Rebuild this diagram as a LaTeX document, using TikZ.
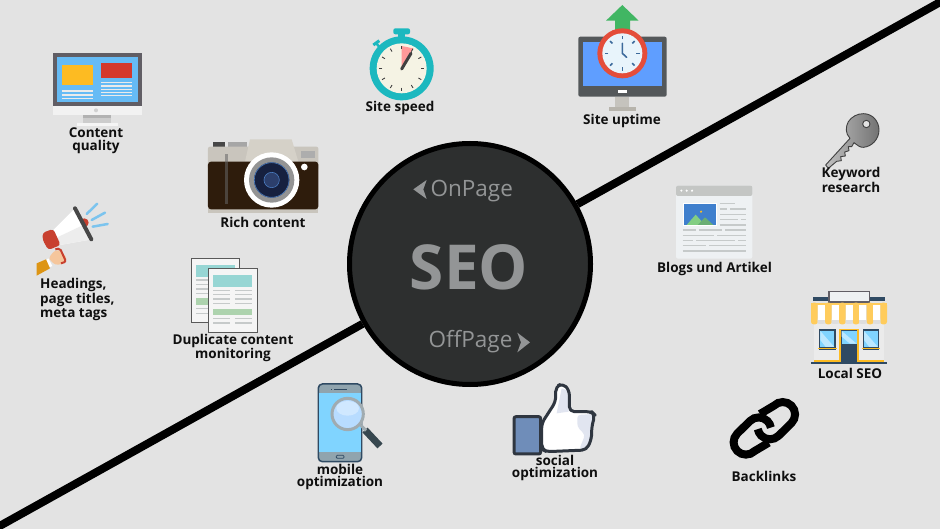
\documentclass[tikz,border=0pt]{standalone}
\usepackage{fontspec}
\setmainfont{Open Sans}
\usetikzlibrary{shapes.geometric}
\definecolor{bg}{HTML}{E3E3E3}
\definecolor{disc}{HTML}{2D2F2F}
\definecolor{disctext}{HTML}{939596}
\definecolor{ink}{HTML}{0F0F0F}
\definecolor{linegray}{HTML}{C6CACA}
\definecolor{skyb}{HTML}{66BBF5}
\definecolor{gold}{HTML}{FDBB22}
\definecolor{brick}{HTML}{D4382C}
\definecolor{slate}{HTML}{615E65}
\definecolor{tealc}{HTML}{1CB8BF}
\definecolor{cream}{HTML}{F5F3E4}
\definecolor{scrblue}{HTML}{5F9EFF}
\definecolor{mongray}{HTML}{54585A}
\definecolor{standg}{HTML}{B7B4AC}
\definecolor{leaf}{HTML}{41B663}
\definecolor{clockred}{HTML}{E44D3A}
\definecolor{clockface}{HTML}{E8F4FB}
\definecolor{clocktick}{HTML}{3C6A9B}
\definecolor{navy}{HTML}{2F4A63}
\definecolor{awning}{HTML}{FFCC5C}
\definecolor{glass}{HTML}{80D4FF}
\definecolor{glassl}{HTML}{BCE8FF}
\definecolor{docteal}{HTML}{97D6D4}
\definecolor{docgreen}{HTML}{ADD3AE}
\definecolor{camtop}{HTML}{C9C5BD}
\definecolor{camhump}{HTML}{D5D1C8}
\definecolor{cambrown}{HTML}{2E1C0C}
\definecolor{lensnavy}{HTML}{16203F}
\definecolor{lensmid}{HTML}{2C3F6C}
\definecolor{lensring}{HTML}{4A7CC0}
\definecolor{thumbb}{HTML}{6F8DB9}
\definecolor{thumbo}{HTML}{2F3640}
\definecolor{thumbs}{HTML}{E1E5F0}
\definecolor{megared}{HTML}{C8402F}
\definecolor{skin}{HTML}{F5C69C}
\definecolor{sleeve}{HTML}{DD9515}
\definecolor{raycol}{HTML}{7CC4EE}
\definecolor{blogbg}{HTML}{EEF1F3}
\definecolor{bloghd}{HTML}{C4C6C4}
\definecolor{blogimg}{HTML}{3F7FCD}
\definecolor{mtl}{HTML}{82CE82}
\definecolor{mtd}{HTML}{6AAE74}
\definecolor{magring}{HTML}{A0ABB0}
\definecolor{magglass}{HTML}{B8DCFF}
\definecolor{maghandle}{HTML}{37474F}
\definecolor{phonegray}{HTML}{90A4AE}
\tikzset{
 z1/.style={shift={(20,30)},scale=0.33333},
 z2/.style={shift={(350,0)},scale=0.33333},
 z3/.style={shift={(650,100)},scale=0.33333},
 z4/.style={shift={(290,370)},scale=0.33333},
 z5/.style={shift={(340,135)},scale=0.33333},
 z6/.style={shift={(710,380)},scale=0.33333},
 lbl/.style={inner sep=0pt,align=center,text=ink,font=\bfseries\fontsize{13.5}{12.6}\selectfont},
 lbll/.style={inner sep=0pt,align=left,text=ink,font=\bfseries\fontsize{13.5}{14.3}\selectfont},
 diag/.style={line width=8pt,black},
 txl/.style={line width=1.5pt,linegray},
 wl/.style={line width=1.1pt,white!92!black},
 disclbl/.style={inner sep=0pt,text=disctext,font=\fontsize{22.5}{24}\selectfont},
}
\begin{document}
\begin{tikzpicture}[x=1pt,y=-1pt]
\useasboundingbox (0,0) rectangle (940,529);
\fill[bg] (0,0) rectangle (940,529);
% ---------- centre
\coordinate (lineA) at (-10,531.4);
\coordinate (lineB) at (950,-3.4);
\node[circle,draw=black,line width=5pt,fill=disc,minimum size=241pt,inner sep=0pt] (seo) at (470,264) {};
\draw[diag] (lineA) -- (seo);
\draw[diag] (seo) -- (lineB);
\node[inner sep=0pt,text=disctext,font=\bfseries\fontsize{62}{62}\selectfont] (seotxt) at (469,267.5) {SEO};
\node[disclbl] (onpage) at (471.7,191.5) {OnPage};
\node[disclbl] (offpage) at (470.5,342) {OffPage};
\begin{scope}[z5]
\fill[disctext] (220,163) -- (260,135) -- (250,163) -- (260,192) -- cycle;
\fill[disctext] (532,593) -- (570,622) -- (532,652) -- (543,622) -- cycle;
\end{scope}
% ---------- content monitor
\begin{scope}[z1]
\fill[black!5] (98,228) rectangle (365,255);
\fill[slate] (98,68) rectangle (365,228);
\fill[skyb] (110,82) rectangle (353,216);
\fill[gold] (125,105) rectangle (220,166);
\fill[brick] (243,100) rectangle (337,144);
\foreach \yy in {183,195,205} \draw[wl] (125,\yy) -- (220,\yy);
\foreach \yy in {157,168,178,187,197} \draw[wl] (243,\yy) -- (337,\yy);
\fill[black!18] (228,241) circle[radius=6];
\fill[black!20] (188,255) rectangle (274,278);
\fill[black!30] (188,255) rectangle (274,263);
\fill[black!4] (170,278) rectangle (293,288);
\end{scope}
\node[lbl] (t1) at (96,140.5) {Content\\quality};
% ---------- camera
\begin{scope}[z1]
\fill[black!72] (580,337) rectangle (615,352);
\fill[black!35] (625,337) rectangle (680,354);
\fill[rounded corners=2pt,camtop] (564,350) rectangle (895,420);
\fill[camhump] (675,395) -- (690,328) -- (815,328) -- (835,395) -- cycle;
\fill[camtop] (564,530) rectangle (895,548);
\fill[rounded corners=3pt,cambrown] (564,395) -- (895,395) -- (895,538) -- (564,538) -- cycle;
\fill[black!32] (843,362) rectangle (885,385);
\fill[black!60,opacity=.55] (614,373) rectangle (623,522);
\fill[white] (755,450) circle[radius=83];
\fill[black!42] (755,450) circle[radius=68];
\fill[lensnavy] (755,450) circle[radius=53];
\draw[lensring,line width=.6pt] (755,450) circle[radius=52];
\fill[lensmid] (755,450) circle[radius=23];
\draw[lensring,line width=.6pt] (755,450) circle[radius=23];
\fill[white] (853,411) circle[radius=10];
\end{scope}
\node[lbl] (t2) at (263,222) {Rich content};
% ---------- megaphone
\begin{scope}[z1]
\draw[line width=2.5pt,raycol,line cap=round] (200,552) -- (232,521);
\draw[line width=2.5pt,raycol,line cap=round] (215,570) -- (255,548);
\draw[line width=2.5pt,raycol,line cap=round] (218,590) -- (263,582);
\fill[megared] (193,578) circle[radius=13];
\fill[white] (100,600) -- (165,535) -- (215,628) -- (120,645) -- cycle;
\fill[black!7] (112,622) -- (190,585) -- (215,628) -- (120,645) -- cycle;
\draw[line width=4pt,black!72,line cap=round] (165,535) -- (214,628);
\fill[rounded corners=3pt,skin] (85,685) -- (105,660) -- (122,662) -- (142,685) -- (130,702) -- (105,705) -- cycle;
\draw[line width=2pt,megared,rounded corners=2pt] (106,658) -- (120,655) -- (138,695) -- (123,700);
\fill[megared,rounded corners=3pt] (68,608) -- (100,597) -- (122,645) -- (85,660) -- (68,630) -- cycle;
\fill[white] (75,692) -- (85,685) -- (97,708) -- (88,712) -- cycle;
\fill[sleeve] (50,700) -- (78,688) -- (90,715) -- (50,737) -- cycle;
\end{scope}
\node[lbll,anchor=north west] (t3) at (40,278.5) {Headings,\\page titles,\\meta tags};
% ---------- duplicate content
\begin{scope}[z1]
\draw[fill=black!4,draw=black!65,line width=.8pt] (513,686) rectangle (659,878);
\fill[docteal] (528,705) rectangle (645,742);
\foreach \yy in {750,763,777,790,835,850} \draw[txl] (528,\yy) -- (566,\yy);
\fill[docgreen] (528,805) rectangle (566,825);
\draw[fill=black!4,draw=black!65,line width=.8pt] (566,714) rectangle (712,906);
\fill[docteal] (580,735) rectangle (697,770);
\foreach \yy in {781,793,807,820,866,879} {\draw[txl] (580,\yy) -- (630,\yy); \draw[txl] (645,\yy) -- (697,\yy);}
\fill[docgreen] (580,836) rectangle (697,855);
\end{scope}
\node[lbl] (t4) at (233,348) {Duplicate content\\monitoring};
% ---------- stopwatch
\begin{scope}[z2]
\fill[tealc,rounded corners=2pt] (130,85) rectangle (180,103);
\fill[tealc] (145,100) rectangle (165,115);
\draw[line width=3pt,tealc] (70,135) -- (88,122);
\draw[line width=2.5pt,tealc] (77,128) -- (92,145);
\fill[tealc] (155,205) circle[radius=96];
\fill[cream] (155,205) circle[radius=75];
\fill[red!40!white] (155,205) -- (155,138) -- (189,145) -- cycle;
\foreach \a in {0,30,...,330} \draw[line width=.9pt,black!75] ({155+58*cos(\a)},{205+58*sin(\a)}) -- ({155+68*cos(\a)},{205+68*sin(\a)});
\draw[line width=3pt,black!75,line cap=round] (155,207) -- (183,160);
\end{scope}
\node[lbl] (t5) at (400,108) {Site speed};
% ---------- uptime monitor
\begin{scope}[z2]
\fill[standg] (778,320) rectangle (857,333);
\fill[standg!80!white] (795,290) rectangle (838,320);
\fill[mongray,rounded corners=2pt] (685,110) rectangle (950,290);
\fill[scrblue] (698,125) rectangle (936,258);
\fill[white] (805,270) rectangle (830,278);
\fill[leaf] (768,62) -- (817,15) -- (866,62) -- (840,62) -- (840,95) -- (795,95) -- (795,62) -- cycle;
\fill[clockred] (817,160) circle[radius=75];
\fill[clockface] (817,160) circle[radius=60];
\foreach \a in {0,45,...,315} \draw[line width=1.6pt,clocktick] ({817+42*cos(\a)},{160+42*sin(\a)}) -- ({817+52*cos(\a)},{160+52*sin(\a)});
\draw[line width=1.6pt,clocktick,line cap=round,line join=round] (817,130) -- (817,160) -- (830,172);
\end{scope}
\node[lbl] (t6) at (622,121) {Site uptime};
% ---------- key
\begin{scope}[z3]
\draw[black!75,line width=.9pt,left color=black!25,right color=black!55,even odd rule,line join=round]
 (640,41) .. controls (668,41) and (687,64) .. (687,90) .. controls (687,118) and (665,140) .. (640,142)
 .. controls (630,143) and (622,135) .. (612,128) -- (605,140) -- (595,140) -- (597,152) -- (584,156) -- (586,168) -- (572,170) -- (574,182) -- (560,184)
 -- (535,205) -- (527,195) -- (600,115) .. controls (585,100) and (587,80) .. (595,65) .. controls (605,50) and (622,41) .. (640,41) -- cycle
 (649,72) circle[radius=11];
\end{scope}
\node[lbl] (t7) at (851,180) {Keyword\\research};
% ---------- blog card
\begin{scope}[z3]
\fill[blogbg,rounded corners=2pt] (78,257) rectangle (307,476);
\fill[bloghd,rounded corners=2pt] (78,257) rectangle (307,288);
\foreach \xx in {94,110,126} \fill[white] (\xx,272) circle[radius=3.5];
\draw[white,line width=.6pt,fill=blogimg] (100,310) rectangle (198,377);
\fill[mtl] (110,375) -- (137,344) -- (165,375) -- cycle;
\fill[mtd] (143,375) -- (165,352) -- (190,375) -- cycle;
\fill[gold] (153,335) circle[radius=3.5];
\foreach \a/\b/\yy in {209/255/311,209/232/327,240/287/327,209/287/343,209/263/359,272/287/359,209/287/375,
 98/137/390,146/216/390,225/287/390,98/192/406,201/287/406,98/129/422,138/255/422,264/287/422,98/169/437,177/287/437,98/287/453}
 \draw[txl] (\a,\yy) -- (\b,\yy);
\end{scope}
\node[lbl] (t8) at (714.5,269) {Blogs und Artikel};
% ---------- store
\begin{scope}[z3]
\fill[black!8] (492,672) rectangle (702,785);
\fill[navy] (488,590) rectangle (705,603);
\draw[draw=slate,line width=1.1pt,fill=blogbg] (537,574) rectangle (658,606);
\foreach \xx in {483,525,567,608,650,691} \fill[awning,rounded corners=2.5pt] (\xx,608) rectangle (\xx+20,673);
\fill[awning] (483,608) rectangle (711,615);
\foreach \xx in {503,545,587,628,670} {\fill[black!13,rounded corners=2.5pt] (\xx,650) rectangle (\xx+21,672); \fill[white] (\xx,615) rectangle (\xx+21,660);}
\foreach \xx in {507,638} {
 \fill[navy] (\xx,688) rectangle (\xx+50,750);
 \fill[glass] (\xx+4,693) rectangle (\xx+46,741);
 \fill[glassl] (\xx+4,693) -- (\xx+46,741) -- (\xx+20,741) -- (\xx+4,720) -- cycle;
 \fill[gold] (\xx-3,744) rectangle (\xx+53,748);
}
\fill[gold] (568,686) rectangle (626,785);
\fill[navy] (572,690) rectangle (622,785);
\fill[glass] (575,693) rectangle (620,731);
\fill[glassl] (575,693) -- (620,731) -- (600,731) -- (575,710) -- cycle;
\fill[gold] (492,779) rectangle (568,785);
\fill[gold] (626,779) rectangle (702,785);
\fill[navy] (482,785) rectangle (711,792);
\end{scope}
\node[lbl] (t9) at (850,373) {Local SEO};
% ---------- phone
\begin{scope}[z4]
\draw[navy,line width=1.5pt,fill=phonegray,rounded corners=4pt] (85,42) rectangle (215,275);
\fill[glass] (87,70) rectangle (214,245);
\draw[navy,line width=.8pt] (132,57) -- (170,57);
\fill[navy] (122,56) rectangle (125,58);
\draw[navy,line width=.8pt,rounded corners=1pt] (139,256) rectangle (162,265);
\draw[maghandle,line width=7pt] (225,180) -- (270,228);
\draw[magring,line width=3pt] (212,165) -- (228,182);
\draw[magring,line width=3pt,fill=magglass] (173,132) circle[radius=47];
\fill[white,opacity=.35] (173,115) ellipse[x radius=34,y radius=22];
\end{scope}
\node[lbl] (t10) at (340,477) {mobile\\optimization};
% ---------- thumb
\begin{scope}[z4]
\fill[white,rounded corners=5pt]
 (755,160) -- (797,95) -- (797,50) -- (818,40) -- (838,60) -- (838,125) -- (905,125) -- (915,135) -- (905,170) -- (905,205) -- (890,240) -- (770,245) -- (755,238) -- cycle;
\fill[thumbs,rounded corners=3pt] (862,135) -- (908,132) -- (900,235) -- (868,238) -- (885,195) -- (862,170) -- cycle;
\fill[thumbs] (815,55) -- (836,62) -- (836,125) -- (800,130) -- cycle;
\draw[thumbo,line width=3pt,line join=round,rounded corners=5pt]
 (755,160) -- (797,95) -- (797,50) -- (818,40) -- (838,60) -- (838,125) -- (905,125) -- (915,135) -- (905,170) -- (905,205) -- (890,240) -- (770,245) -- (755,238) -- cycle;
\draw[thumbo,line width=3pt,fill=thumbb,rounded corners=2pt] (672,140) rectangle (752,252);
\end{scope}
\node[lbl] (t11) at (555,468) {social\\optimization};
% ---------- chain
\begin{scope}[z6]
\draw[line width=8pt,black] (150,102) -- (192,77) arc[start angle=225,end angle=405,radius=37] -- (206,167) arc[start angle=45,end angle=170,radius=37];
\draw[line width=8pt,black] (176,188) -- (134,213) arc[start angle=45,end angle=225,radius=37] -- (120,123) arc[start angle=225,end angle=350,radius=37];
\end{scope}
\node[lbl] (t12) at (764,476.5) {Backlinks};
\end{tikzpicture}
\end{document}
